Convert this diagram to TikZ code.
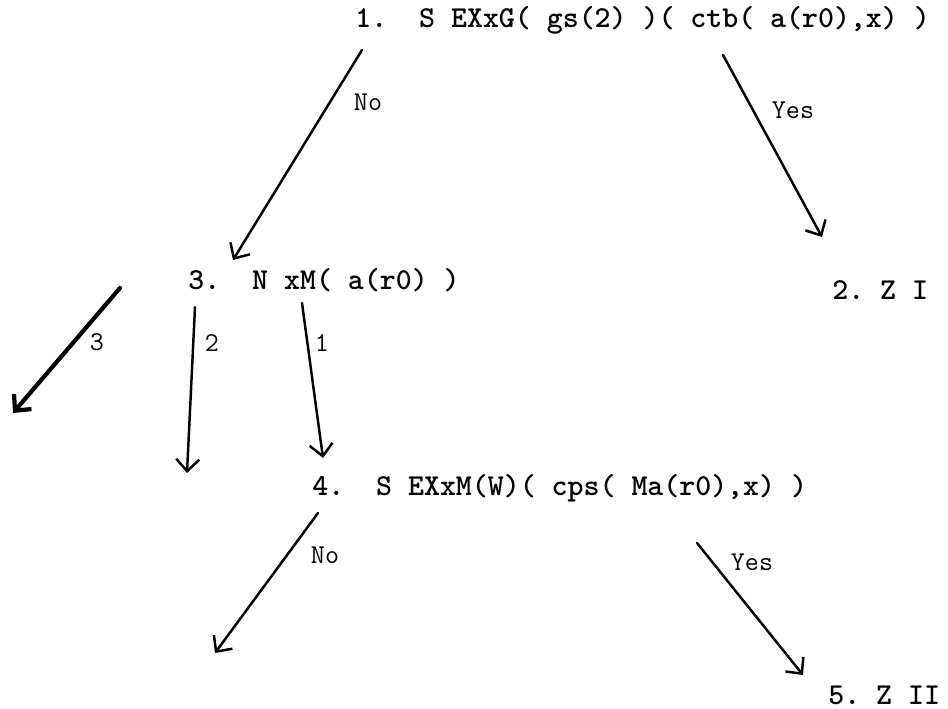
\documentclass[tikz,border=0pt]{standalone}
\usepackage{fontspec}
\usetikzlibrary{arrows.meta}

\begin{document}
\begin{tikzpicture}[
  x=0.02cm, y=-0.02cm,
  stmt/.style={anchor=west, inner sep=0pt, font=\frenchspacing\fontsize{17.3}{20}\selectfont\ttfamily\bfseries},
  lbl/.style={inner sep=0pt, font=\fontsize{15.5}{18}\selectfont\ttfamily},
  arr/.style={-{Straight Barb[length=2.4mm,width=4.6mm]}, line width=1.4pt, line cap=round}
]
\useasboundingbox (0,0) rectangle (948,709);
% statements
\node[stmt] (s1) at (355,20) {1.\ \ S EXxG( gs(2) )( ctb( a(r0),x) )};
\node[stmt] (s2) at (832,290) {2. Z I};
\node[stmt] (s3) at (188,280) {3.\ \ N xM( a(r0) )};
\node[stmt] (s4) at (312,488) {4.\ \ S EXxM(W)( cps( Ma(r0),x) )};
\node[stmt] (s5) at (828,695) {5. Z II};
% arrow ends
\coordinate (s1no) at (362,50);
\coordinate (s3top) at (233,260);
\coordinate (s1yes) at (723,55);
\coordinate (s2top) at (822,237);
\coordinate (s3c) at (120,288);
\coordinate (c3end) at (13,413);
\coordinate (s3b) at (195,307);
\coordinate (c2end) at (187,473);
\coordinate (s3a) at (302,303);
\coordinate (s4top) at (323,458);
\coordinate (s4no) at (318,513);
\coordinate (n4end) at (215,653);
\coordinate (s4yes) at (697,543);
\coordinate (s5top) at (803,675);
% connectors
\draw[arr] (s1no) -- (s3top);
\draw[arr] (s1yes) -- (s2top);
\draw[arr, line width=2.4pt] (s3c) -- (c3end);
\draw[arr] (s3b) -- (c2end);
\draw[arr] (s3a) -- (s4top);
\draw[arr] (s4no) -- (n4end);
\draw[arr] (s4yes) -- (s5top);
% labels
\node[lbl] (lno1) at (368,102) {No};
\node[lbl] (lyes1) at (793,110) {Yes};
\node[lbl] (l3) at (97,342) {3};
\node[lbl] (l2) at (212,343) {2};
\node[lbl] (l1) at (322,343) {1};
\node[lbl] (lno4) at (325,555) {No};
\node[lbl] (lyes4) at (752,562) {Yes};
\end{tikzpicture}
\end{document}
